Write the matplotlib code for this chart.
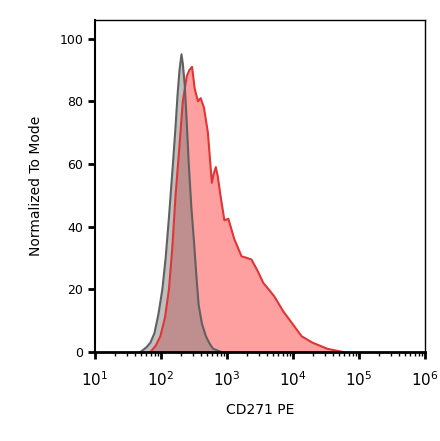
import matplotlib
matplotlib.use("Agg")
import matplotlib.pyplot as plt
import numpy as np
from matplotlib.ticker import LogLocator, NullFormatter

# log10 of fluorescence, normalized to mode
gray_log = [1.69, 1.78, 1.84, 1.90, 1.96, 2.02, 2.07, 2.12, 2.18, 2.22, 2.25, 2.28, 2.31,
            2.33, 2.36, 2.39, 2.42, 2.46, 2.50, 2.54, 2.57, 2.62, 2.68, 2.74, 2.79, 2.91]
gray_val = [0, 1.5, 3, 6, 12, 20, 30, 43, 60, 72, 82, 90, 95,
            92, 85, 73, 60, 46, 35, 23, 15, 9, 5, 2.5, 1, 0]

red_log = [1.84, 1.92, 1.99, 2.06, 2.12, 2.17, 2.22, 2.28, 2.33, 2.39, 2.43, 2.47, 2.51, 2.56,
           2.60, 2.65, 2.71, 2.77, 2.80, 2.83, 2.86, 2.90, 2.96, 3.02, 3.11, 3.22, 3.30, 3.37,
           3.46, 3.55, 3.63, 3.72, 3.85, 3.98, 4.13, 4.29, 4.52, 4.75]
red_val = [0, 2, 5, 11, 20, 33, 50, 66, 80, 88, 90, 91, 84, 80,
           81, 78, 70, 54, 57, 59, 56, 50, 42, 42.5, 36, 30.5, 30, 29.5,
           26, 22, 20, 17.6, 13, 9.3, 5, 3, 1, 0]

decades = [1, 2, 3, 4, 5, 6]

fig = plt.figure(figsize=(4.4, 4.41), dpi=100)
ax = fig.add_axes([0.216, 0.202, 0.75, 0.753])

gx = 10 ** np.array(gray_log)
rx = 10 ** np.array(red_log)
ax.fill_between(rx, red_val, color="#ffa0a0", lw=0)
ax.plot(rx, red_val, color="#e03535", lw=1.5)
ax.fill_between(gx, gray_val, color="#808080", alpha=0.5, lw=0)
ax.plot(gx, gray_val, color="#606060", lw=1.5)

ax.set_xscale("log")
ax.set_xlim(10, 1e6)
ax.set_ylim(0, 106)
ax.set_xticks([10 ** d for d in decades])
ax.set_xticklabels([f"$10^{{{d}}}$" for d in decades], fontsize=11)
ax.xaxis.set_minor_locator(LogLocator(base=10, subs=np.arange(2, 10), numticks=20))
ax.xaxis.set_minor_formatter(NullFormatter())
ax.set_yticks([0, 20, 40, 60, 80, 100])
ax.tick_params(axis="both", which="major", direction="out", length=5, width=2, labelsize=9)
ax.tick_params(axis="x", which="major", pad=8, labelsize=11)
ax.tick_params(axis="x", which="minor", direction="out", length=3, width=1)
for s in ax.spines.values():
    s.set_linewidth(1.0)
ax.spines["bottom"].set_linewidth(2)
ax.spines["left"].set_linewidth(1.5)

ax.set_xlabel("CD271 PE", fontsize=10, labelpad=10)
ax.set_ylabel("Normalized To Mode", fontsize=10, labelpad=12)

fig.savefig("out.png", dpi=100)
